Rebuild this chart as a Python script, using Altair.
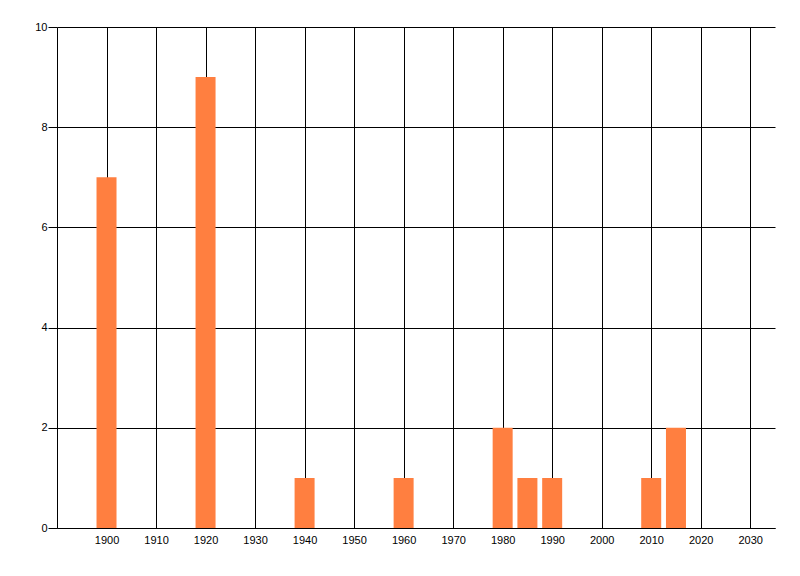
import altair as alt
import pandas as pd

years = [1900, 1920, 1940, 1960, 1980, 1985, 1990, 2010, 2015]
counts = [7, 9, 1, 1, 2, 1, 1, 1, 2]
x_ticks = list(range(1900, 2031, 10))
y_ticks = [0, 2, 4, 6, 8, 10]

df = pd.DataFrame({"year": years, "count": counts})

chart = alt.Chart(df).mark_bar(size=20, color="#FF7F40").encode(
    x=alt.X("year:Q", scale=alt.Scale(domain=[1890, 2035], nice=False, zero=False, padding=0),
            axis=alt.Axis(values=x_ticks, format="d", title=None, grid=True,
                          gridColor="black", gridOpacity=1, gridWidth=1,
                          domainColor="black", domainWidth=1, tickSize=0,
                          labelPadding=6, labelFont="Liberation Sans", labelFontSize=11,
                          labelColor="black")),
    y=alt.Y("count:Q", scale=alt.Scale(domain=[0, 10], nice=False, padding=0),
            axis=alt.Axis(values=y_ticks, title=None, grid=True,
                          gridColor="black", gridOpacity=1, gridWidth=1,
                          domainColor="black", domainWidth=1, tickSize=9,
                          tickColor="black", labelPadding=1,
                          labelFont="Liberation Sans", labelFontSize=11,
                          labelColor="black")),
).properties(
    width=718, height=501,
    autosize=alt.AutoSizeParams(type="none"),
    padding={"left": 49, "top": 19, "right": 10, "bottom": 30},
    background="white",
).configure_view(stroke=None)

chart.save("out.html", embed_options={"renderer": "svg", "actions": False})
